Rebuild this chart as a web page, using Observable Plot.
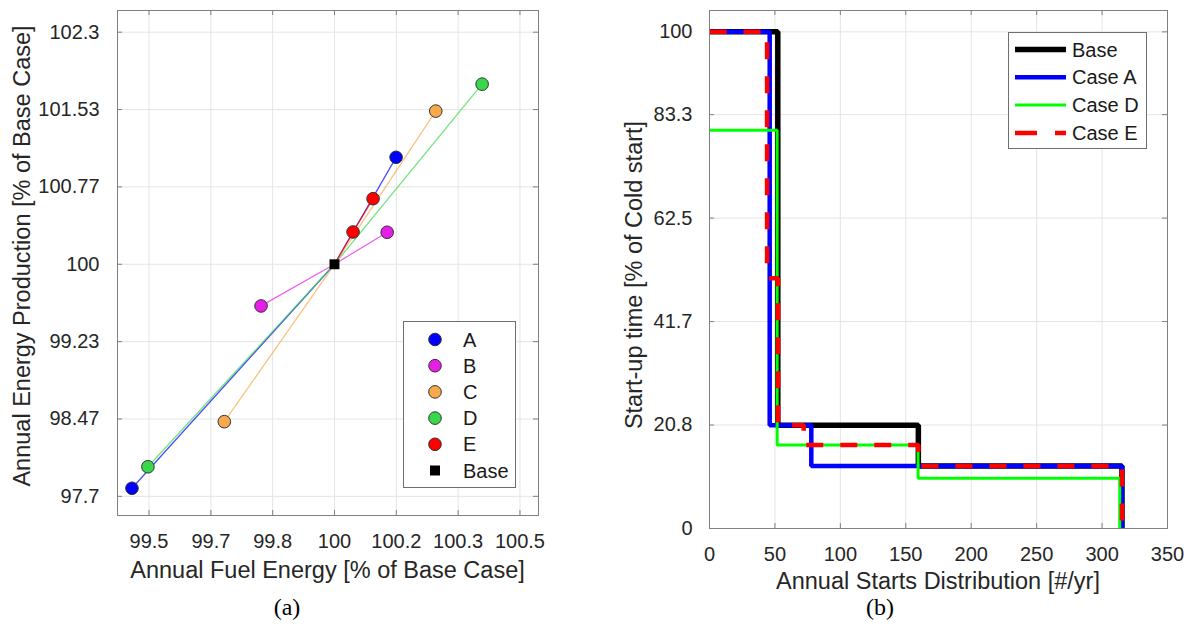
<!DOCTYPE html>
<html><head><meta charset="utf-8">
<script src="https://cdn.jsdelivr.net/npm/d3@7"></script>
<script src="https://cdn.jsdelivr.net/npm/@observablehq/plot@0.6"></script>
<style>
body{margin:0;background:#fff;}
#wrap{position:relative;width:1193px;height:629px;overflow:hidden;font-family:"Liberation Sans",Arial,sans-serif;color:#262626;}
.abs{position:absolute;white-space:nowrap;}
.axlab{font-size:23.5px;color:#262626;}
.cap{font-family:"Liberation Serif","Times New Roman",serif;font-size:24px;color:#000;}
.legend{position:absolute;border:1px solid #6e6e6e;background:#fff;box-sizing:border-box;}
</style></head><body><div id="wrap"></div>
<script>
// ---------- Panel (a) data ----------
const fuelTicks = [99.5, 99.6667, 99.8333, 100, 100.1667, 100.3333, 100.5];
const fuelTickLabels = ["99.5","99.7","99.8","100","100.2","100.3","100.5"];
const energyTicks = [97.7, 98.4667, 99.2333, 100, 100.7667, 101.5333, 102.3];
const energyTickLabels = ["97.7","98.47","99.23","100","100.77","101.53","102.3"];
const caseNames = ["A","B","C","D","E"];
const caseColors = ["#0000ff","#e61ee6","#f7a94b","#37d94a","#ff0000"];
const pointCase = ["A","A","B","B","C","C","D","D","E","E"];
const pointFuel = [99.454,100.166, 99.802,100.142, 99.703,100.273, 99.497,100.398, 100.05,100.104];
const pointEnergy = [97.78,101.06, 99.587,100.317, 98.44,101.518, 97.993,101.785, 100.32,100.65];
const baseFuel = [100];
const baseEnergy = [100];

// ---------- Panel (b) data ----------
const xStartTicks = [0,50,100,150,200,250,300,350];
const yStartTicks = [0, 20.833, 41.667, 62.5, 83.333, 100];
const yStartTickLabels = ["0","20.8","41.7","62.5","83.3","100"];
const stepNames = ["Base","Case A","Case D","Case E"];
const stepColors = ["#000000","#0000ff","#00ff00","#ff0000"];
const baseStartsX = [0, 52.2, 159.6, 315.2];
const baseStartsY = [100, 20.8, 12.6, 0];
const caseAStartsX = [0, 46, 77.8, 315.2];
const caseAStartsY = [100, 20.8, 12.6, 0];
const caseDStartsX = [0, 51.7, 159.4, 313.5];
const caseDStartsY = [80.2, 16.8, 10.1, 0];
const caseEStartsX = [0, 44, 52.4, 72, 159.6, 315.2];
const caseEStartsY = [100, 50.4, 20.8, 16.8, 12.6, 0];

const wrap = document.getElementById("wrap");
const FRAME = "#808080", GRID = "#e4e4e4";
const font = '"Liberation Sans", Arial, sans-serif';

function place(el, left, top) {
  el.style.position = "absolute"; el.style.left = left + "px"; el.style.top = top + "px";
  wrap.appendChild(el);
}
function text(str, cls, x, y, opts = {}) {
  const d = document.createElement("div");
  d.className = "abs " + cls; d.textContent = str;
  d.style.left = x + "px"; d.style.top = y + "px";
  d.style.transform = opts.rotate ? "translate(-50%,-50%) rotate(-90deg)" : "translate(-50%,-50%)";
  wrap.appendChild(d);
}

// ---------- Panel (a) ----------
{
  const W = 560, H = 560, mL = 117, mR = 22, mT = 10, mB = 45;
  const fw = W - mL - mR, fh = H - mT - mB;
  const marks = [
    Plot.ruleX(fuelTicks, {stroke: GRID}),
    Plot.ruleY(energyTicks, {stroke: GRID}),
    Plot.tickX(fuelTicks, {stroke: FRAME, insetTop: fh - 5}),
    Plot.tickX(fuelTicks, {stroke: FRAME, insetBottom: fh - 5}),
    Plot.tickY(energyTicks, {stroke: FRAME, insetRight: fw - 5}),
    Plot.tickY(energyTicks, {stroke: FRAME, insetLeft: fw - 5})
  ];
  caseNames.forEach((c, k) => {
    const pts = [];
    pointCase.forEach((pc, i) => { if (pc === c) pts.push({x: pointFuel[i], y: pointEnergy[i]}); });
    pts.push({x: baseFuel[0], y: baseEnergy[0]});
    pts.sort((a, b) => a.x - b.x);
    marks.push(Plot.line(pts, {x: "x", y: "y", stroke: caseColors[k], strokeWidth: 1.3, strokeOpacity: 0.7}));
  });
  caseNames.forEach((c, k) => {
    const pts = [];
    pointCase.forEach((pc, i) => { if (pc === c) pts.push({x: pointFuel[i], y: pointEnergy[i]}); });
    marks.push(Plot.dot(pts, {x: "x", y: "y", r: 6.3, fill: caseColors[k], stroke: "#333", strokeWidth: 1}));
  });
  marks.push(Plot.dot(baseFuel.map((f, i) => ({x: f, y: baseEnergy[i]})), {x: "x", y: "y", symbol: "square", r: 5.6, fill: "#000"}));
  marks.push(Plot.frame({stroke: FRAME}));
  const p = Plot.plot({
    width: W, height: H, marginLeft: mL, marginRight: mR, marginTop: mT, marginBottom: mB,
    style: {fontSize: "20px", fontFamily: font, color: "#262626", background: "transparent", overflow: "visible"},
    x: {domain: [99.415, 100.55], ticks: fuelTicks, tickFormat: d => fuelTickLabels[fuelTicks.indexOf(d)], tickSize: 0, tickPadding: 18, label: null},
    y: {domain: [97.51, 102.515], ticks: energyTicks, tickFormat: d => energyTickLabels[energyTicks.indexOf(d)], tickSize: 0, tickPadding: 18, label: null},
    marks
  });
  place(p, 0, 0);

  const lg = document.createElement("div");
  lg.className = "legend";
  Object.assign(lg.style, {left: "403px", top: "321px", width: "113px", height: "167px"});
  const svg = d3.create("svg").attr("width", 113).attr("height", 167).style("position", "absolute").style("left", "-1px").style("top", "-1px").style("overflow", "visible");
  const names = caseNames.concat(["Base"]);
  names.forEach((n, i) => {
    const y = 18.5 + i * 26.2;
    if (n === "Base") svg.append("rect").attr("x", 32 - 5).attr("y", y - 5).attr("width", 10).attr("height", 10).attr("fill", "#000");
    else svg.append("circle").attr("cx", 32).attr("cy", y).attr("r", 6.3).attr("fill", caseColors[i]).attr("stroke", "#333");
    svg.append("text").attr("x", 60).attr("y", y).attr("dy", "0.35em").attr("font-size", 20).attr("font-family", font).attr("fill", "#1a1a1a").text(n);
  });
  lg.appendChild(svg.node());
  wrap.appendChild(lg);

  text("Annual Fuel Energy [% of Base Case]", "axlab", 327.5, 570);
  text("Annual Energy Production [% of Base Case]", "axlab", 22, 256, {rotate: true});
  text("(a)", "cap", 287, 607);
}

// ---------- Panel (b) ----------
{
  const L = 600, W = 593, H = 560, mL = 109, mR = 26, mT = 10, mB = 32;
  const fw = W - mL - mR, fh = H - mT - mB;
  const series = [
    {xs: baseStartsX, ys: baseStartsY, w: 5.5, dash: null},
    {xs: caseAStartsX, ys: caseAStartsY, w: 4.5, dash: null},
    {xs: caseDStartsX, ys: caseDStartsY, w: 3, dash: null},
    {xs: caseEStartsX, ys: caseEStartsY, w: 4.5, dash: "17,17"}
  ];
  const marks = [
    Plot.ruleX(xStartTicks, {stroke: GRID}),
    Plot.ruleY(yStartTicks, {stroke: GRID}),
    Plot.tickX(xStartTicks, {stroke: FRAME, insetTop: fh - 5}),
    Plot.tickX(xStartTicks, {stroke: FRAME, insetBottom: fh - 5}),
    Plot.tickY(yStartTicks, {stroke: FRAME, insetRight: fw - 5}),
    Plot.tickY(yStartTicks, {stroke: FRAME, insetLeft: fw - 5})
  ];
  series.forEach((s, k) => {
    const pts = s.xs.map((x, i) => ({x, y: s.ys[i]}));
    marks.push(Plot.line(pts, {x: "x", y: "y", curve: "step-after", stroke: stepColors[k], strokeWidth: s.w,
      strokeLinejoin: "miter", strokeLinecap: "butt", strokeDasharray: s.dash || undefined}));
  });
  marks.push(Plot.frame({stroke: FRAME}));
  const p = Plot.plot({
    width: W, height: H, marginLeft: mL, marginRight: mR, marginTop: mT, marginBottom: mB,
    style: {fontSize: "20px", fontFamily: font, color: "#262626", background: "transparent", overflow: "visible"},
    x: {domain: [0, 350], ticks: xStartTicks, tickFormat: d => String(d), tickSize: 0, tickPadding: 18, label: null},
    y: {domain: [0, 104.3], ticks: yStartTicks, tickFormat: d => yStartTickLabels[yStartTicks.indexOf(d)], tickSize: 0, tickPadding: 17, label: null},
    marks
  });
  place(p, L, 0);

  const lg = document.createElement("div");
  lg.className = "legend";
  Object.assign(lg.style, {left: "1008px", top: "32px", width: "139px", height: "117px"});
  const svg = d3.create("svg").attr("width", 139).attr("height", 117).style("position", "absolute").style("left", "-1px").style("top", "-1px").style("overflow", "visible");
  stepNames.forEach((n, i) => {
    const y = 17.5 + i * 27.8;
    const s = series[i];
    svg.append("line").attr("x1", 7).attr("x2", 58).attr("y1", y).attr("y2", y)
      .attr("stroke", stepColors[i]).attr("stroke-width", s.w).attr("stroke-dasharray", s.dash ? "22,18" : null);
    svg.append("text").attr("x", 64).attr("y", y).attr("dy", "0.35em").attr("font-size", 20).attr("font-family", font).attr("fill", "#1a1a1a").text(n);
  });
  lg.appendChild(svg.node());
  wrap.appendChild(lg);

  text("Annual Starts Distribution [#/yr]", "axlab", 938, 581);
  text("Start-up time [% of Cold start]", "axlab", 634, 275, {rotate: true});
  text("(b)", "cap", 880, 607);
}
</script></body></html>
